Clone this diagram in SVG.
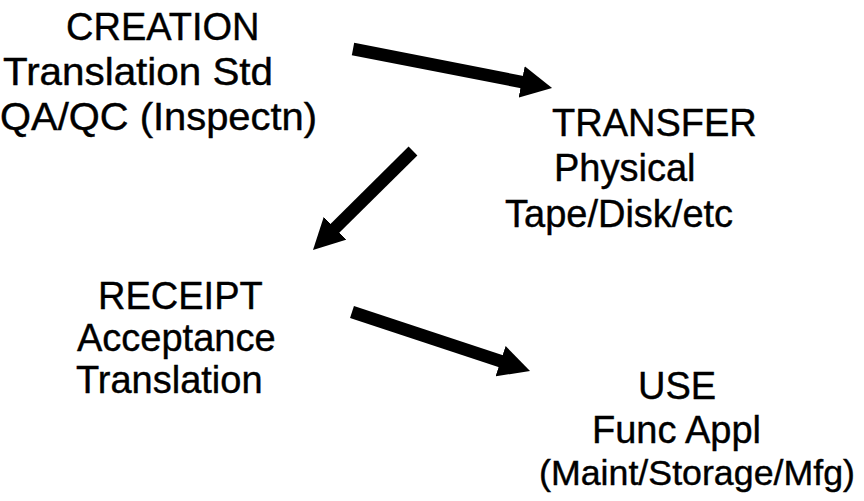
<svg xmlns="http://www.w3.org/2000/svg" width="864" height="501" viewBox="0 0 864 501">
<style>
text{font-family:"Liberation Sans",Arial,Helvetica,sans-serif;font-size:38px;fill:#000;stroke:#000;stroke-width:0.4}
.conn{stroke:#000;stroke-width:12.5;fill:none;marker-end:url(#ah)}
</style>
<defs>
<marker id="ah" markerUnits="userSpaceOnUse" viewBox="0 0 31 32" markerWidth="31" markerHeight="32" refX="2" refY="16" orient="auto">
<path d="M0,0 L31,16 L0,32 z" fill="#000"/>
</marker>
</defs>
<rect width="864" height="501" fill="#fff"/>
<g id="connectors">
<line class="conn" x1="353" y1="49" x2="523.6" y2="82.4"/>
<line class="conn" x1="413" y1="151" x2="333.6" y2="229.6"/>
<line class="conn" x1="352" y1="312" x2="502.5" y2="361.8"/>
</g>
<g id="creation">
<text x="66" y="40">CREATION</text>
<text x="3" y="85" textLength="270" lengthAdjust="spacingAndGlyphs">Translation Std</text>
<text x="0" y="130" textLength="317" lengthAdjust="spacingAndGlyphs">QA/QC (Inspectn)</text>
</g>
<g id="transfer">
<text x="552" y="136">TRANSFER</text>
<text x="554" y="181">Physical</text>
<text x="505" y="227">Tape/Disk/etc</text>
</g>
<g id="receipt">
<text x="98" y="309">RECEIPT</text>
<text x="77" y="351">Acceptance</text>
<text x="76" y="393">Translation</text>
</g>
<g id="use">
<text x="638" y="399">USE</text>
<text x="592" y="443">Func Appl</text>
<text x="539" y="485" style="font-size:35.5px" textLength="316" lengthAdjust="spacingAndGlyphs">(Maint/Storage/Mfg)</text>
</g>
</svg>
